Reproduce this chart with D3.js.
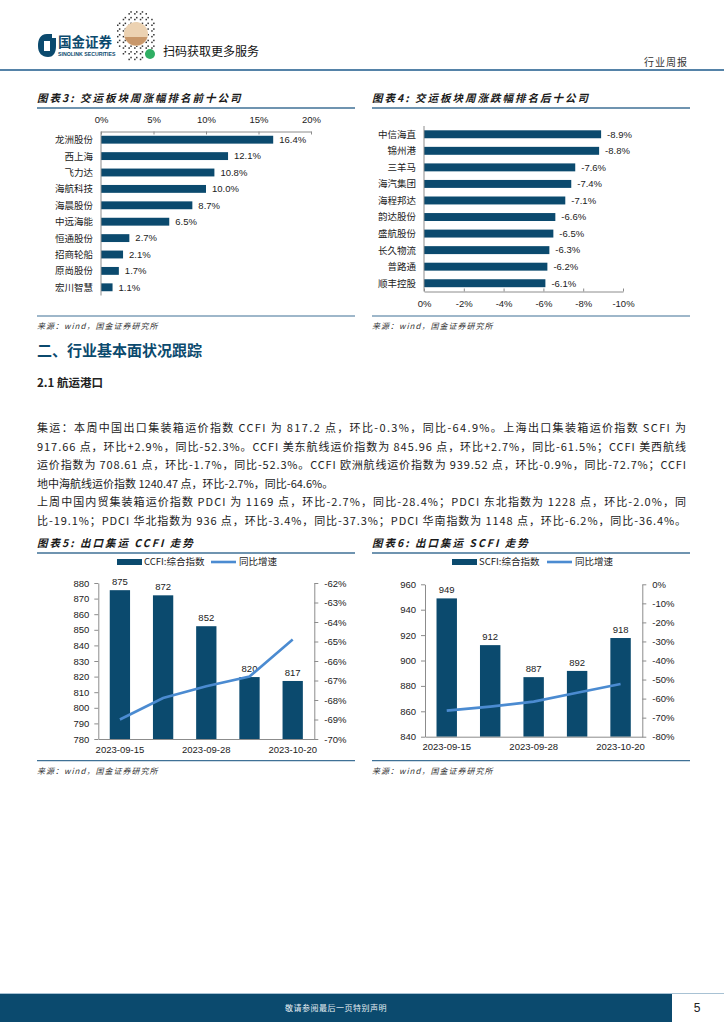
<!DOCTYPE html>
<html>
<head>
<meta charset="utf-8">
<script src="https://cdn.jsdelivr.net/npm/d3@7"></script>
<style>
  body { margin: 0; background: #fff; }
  svg { display: block; font-family: "Noto Sans CJK SC", "Noto Sans", sans-serif; }
  .axis path, .axis line { stroke: #8c8c8c; }
  .axis text { font-family: "Liberation Sans", Arial, sans-serif; font-size: 9.5px; fill: #222; }
</style>
</head>
<body>
<svg id="page" width="724" height="1024"></svg>
<script>
// ---- data ----
const topNames = ['龙洲股份', '西上海', '飞力达', '海航科技', '海晨股份', '中远海能', '恒通股份', '招商轮船', '原尚股份', '宏川智慧'];
const topChanges = [16.4, 12.1, 10.8, 10.0, 8.7, 6.5, 2.7, 2.1, 1.7, 1.1];
const topTicks = [0, 5, 10, 15, 20];

const bottomNames = ['中信海直', '锦州港', '三羊马', '海汽集团', '海程邦达', '韵达股份', '盛航股份', '长久物流', '普路通', '顺丰控股'];
const bottomChanges = [-8.9, -8.8, -7.6, -7.4, -7.1, -6.6, -6.5, -6.3, -6.2, -6.1];
const bottomTicks = [0, -2, -4, -6, -8, -10];

const weekDates = ['2023-09-15', '2023-09-22', '2023-09-28', '2023-10-13', '2023-10-20'];
const dateTicks = ['2023-09-15', '2023-09-28', '2023-10-20'];
const ccfiIndex = [875.4, 872.1, 852.3, 819.7, 817.2];
const ccfiYoY = [-69.0, -67.9, -67.3, -66.8, -64.9];
const scfiIndex = [948.9, 912.1, 886.9, 891.8, 917.7];
const scfiYoY = [-66.3, -64.2, -61.6, -56.9, -52.3];

const paragraphLines = [
  '集运：本周中国出口集装箱运价指数 CCFI 为 817.2 点，环比-0.3%，同比-64.9%。上海出口集装箱运价指数 SCFI 为',
  '917.66 点，环比+2.9%，同比-52.3%。CCFI 美东航线运价指数为 845.96 点，环比+2.7%，同比-61.5%；CCFI 美西航线',
  '运价指数为 708.61 点，环比-1.7%，同比-52.3%。CCFI 欧洲航线运价指数为 939.52 点，环比-0.9%，同比-72.7%；CCFI',
  '地中海航线运价指数 1240.47 点，环比-2.7%，同比-64.6%。',
  '上周中国内贸集装箱运价指数 PDCI 为 1169 点，环比-2.7%，同比-28.4%；PDCI 东北指数为 1228 点，环比-2.0%，同',
  '比-19.1%；PDCI 华北指数为 936 点，环比-3.4%，同比-37.3%；PDCI 华南指数为 1148 点，环比-6.2%，同比-36.4%。'
];
const justified = [true, true, true, false, true, true];

const DARK = '#0b4a6e';
const LINE = '#4b8bd1';
const RULE = '#3f7196';

// plain hyphen instead of d3's unicode minus
const pct1 = d => d3.format('.1f')(d).replace('−', '-') + '%';
const pct0 = d => String(d) + '%';

const svg = d3.select('#page');

// ---- header ----
const header = svg.append('g');
header.append('path')
  .attr('d', 'M47,34 C40,34 38,40 38,46 C38,53 42,57 48,57 C54,57 56,52 56,46 L56,38 L52,38 L52,34 Z')
  .attr('fill', DARK);
header.append('rect').attr('x', 44).attr('y', 41).attr('width', 6).attr('height', 10).attr('fill', '#fff');
header.append('text').attr('x', 58).attr('y', 47)
  .attr('font-size', 13.5).attr('font-weight', 700).attr('fill', DARK).text('国金证券');
header.append('text').attr('x', 58).attr('y', 56)
  .attr('font-family', 'Liberation Sans, Arial').attr('font-size', 5.2).attr('font-weight', 700)
  .attr('fill', DARK).text('SINOLINK SECURITIES');

// QR placeholder
const qr = header.append('g').attr('transform', 'translate(136,34)');
for (let i = -11; i <= 11; i++) {
  for (let j = -14; j <= 14; j++) {
    const inside = (i * i) / 121 + (j * j) / 196 <= 1;
    if (inside && (i * 31 + j * 17 + i * j) % 3 === 0) {
      qr.append('rect').attr('x', i * 1.9).attr('y', j * 1.9)
        .attr('width', 1.5).attr('height', 1.5).attr('fill', '#333');
    }
  }
}
qr.append('circle').attr('r', 12).attr('fill', '#ecd2b2');
qr.append('path').attr('d', 'M-11.5,3 A12,12 0 0 0 11.5,3 Z').attr('fill', '#c8976a');
qr.append('circle').attr('cx', 14).attr('cy', 20).attr('r', 5).attr('fill', '#2fae63');
header.append('text').attr('x', 163).attr('y', 56)
  .attr('font-size', 12).attr('fill', '#111').text('扫码获取更多服务');
header.append('text').attr('x', 688).attr('y', 66).attr('text-anchor', 'end')
  .attr('font-size', 10).attr('fill', '#333').attr('letter-spacing', 1).text('行业周报');
header.append('line').attr('x1', 0).attr('x2', 724).attr('y1', 70).attr('y2', 70)
  .attr('stroke', '#5583a8').attr('stroke-width', 2);

// ---- helpers ----
function chartTitle(x, y, width, label) {
  svg.append('text').attr('x', x).attr('y', y)
    .attr('font-size', 10.5).attr('font-weight', 700).attr('font-style', 'italic')
    .attr('fill', '#1a1a1a').attr('letter-spacing', 2).text(label);
  svg.append('line').attr('x1', x).attr('x2', x + width).attr('y1', y + 6).attr('y2', y + 6)
    .attr('stroke', RULE).attr('stroke-width', 1.5);
}

function sourceNote(x, y, width) {
  svg.append('line').attr('x1', x).attr('x2', x + width).attr('y1', y).attr('y2', y)
    .attr('stroke', RULE).attr('stroke-width', 1.2);
  svg.append('text').attr('x', x).attr('y', y + 13)
    .attr('font-size', 8).attr('font-style', 'italic').attr('fill', '#333')
    .attr('letter-spacing', 1).text('来源：wind，国金证券研究所');
}

function hbarChart(o) {
  const g = svg.append('g');
  const x = d3.scaleLinear().domain(o.domain).range(o.xRange);
  const y = d3.scaleBand().domain(o.names).range(o.yRange).paddingInner(0.52).paddingOuter(0.26);

  g.selectAll('rect.bar').data(o.values).join('rect')
    .attr('class', 'bar')
    .attr('x', x(0))
    .attr('y', (d, i) => y(o.names[i]))
    .attr('width', d => Math.abs(x(d) - x(0)))
    .attr('height', y.bandwidth())
    .attr('fill', DARK);

  g.selectAll('text.val').data(o.values).join('text')
    .attr('class', 'val')
    .attr('x', d => x(d) + 6)
    .attr('y', (d, i) => y(o.names[i]) + y.bandwidth() / 2)
    .attr('dy', '0.35em')
    .attr('font-family', 'Liberation Sans, Arial').attr('font-size', 9.5).attr('fill', '#222')
    .text(pct1);

  g.selectAll('text.cat').data(o.names).join('text')
    .attr('class', 'cat')
    .attr('x', x(0) - 8)
    .attr('y', d => y(d) + y.bandwidth() / 2)
    .attr('dy', '0.36em').attr('text-anchor', 'end')
    .attr('font-size', 9.5).attr('fill', '#222')
    .text(d => d);

  // category axis line
  g.append('line').attr('x1', x(0)).attr('x2', x(0))
    .attr('y1', o.yRange[0]).attr('y2', o.yRange[1]).attr('stroke', '#8c8c8c');

  const axis = (o.top ? d3.axisTop(x) : d3.axisBottom(x))
    .tickValues(o.ticks).tickFormat(pct0)
    .tickSizeInner(-3).tickSizeOuter(0).tickPadding(9);
  g.append('g').attr('class', 'axis')
    .attr('transform', `translate(0,${o.top ? o.yRange[0] : o.yRange[1]})`)
    .call(axis);
}

function comboChart(o) {
  const g = svg.append('g');
  const x = d3.scaleBand().domain(weekDates).range(o.xRange).paddingInner(0.53).paddingOuter(0.265);
  const y = d3.scaleLinear().domain(o.yDomain).range(o.yRange);
  const y2 = d3.scaleLinear().domain(o.y2Domain).range(o.yRange);

  g.append('g').attr('class', 'axis')
    .attr('transform', `translate(${o.xRange[0]},0)`)
    .call(d3.axisLeft(y).tickValues(d3.range(o.yDomain[0], o.yDomain[1] + 0.1, o.yStep))
      .tickSizeInner(4).tickSizeOuter(0).tickPadding(5));
  g.append('g').attr('class', 'axis')
    .attr('transform', `translate(${o.xRange[1]},0)`)
    .call(d3.axisRight(y2).tickValues(d3.range(o.y2Domain[0], o.y2Domain[1] + 0.1, o.y2Step))
      .tickFormat(pct0).tickSizeInner(4).tickSizeOuter(0).tickPadding(6));

  g.selectAll('rect.bar').data(o.values).join('rect')
    .attr('class', 'bar')
    .attr('x', (d, i) => x(weekDates[i]))
    .attr('y', d => y(d))
    .attr('width', x.bandwidth())
    .attr('height', d => y(o.yDomain[0]) - y(d))
    .attr('fill', DARK);

  g.selectAll('text.val').data(o.values).join('text')
    .attr('class', 'val')
    .attr('x', (d, i) => x(weekDates[i]) + x.bandwidth() / 2)
    .attr('y', d => y(d) - 5)
    .attr('text-anchor', 'middle')
    .attr('font-family', 'Liberation Sans, Arial').attr('font-size', 9.5).attr('fill', '#222')
    .text(d => d3.format('.0f')(d));

  g.append('g').attr('class', 'axis')
    .attr('transform', `translate(0,${o.yRange[0]})`)
    .call(d3.axisBottom(x).tickValues(dateTicks).tickSize(0).tickPadding(7));

  const line = d3.line()
    .x((d, i) => x(weekDates[i]) + x.bandwidth() / 2)
    .y(d => y2(d));
  g.append('path').datum(o.yoy)
    .attr('d', line).attr('fill', 'none')
    .attr('stroke', LINE).attr('stroke-width', 2.6);

  // legend
  const lg = g.append('g').attr('transform', `translate(${o.legendX},562)`);
  lg.append('rect').attr('x', 0).attr('y', -3).attr('width', 25).attr('height', 6).attr('fill', DARK);
  lg.append('text').attr('x', 27).attr('y', 0).attr('dy', '0.35em')
    .attr('font-size', 9.5).attr('fill', '#222').text(o.legendName);
  lg.append('line').attr('x1', o.legendGap).attr('x2', o.legendGap + 25).attr('y1', 0).attr('y2', 0)
    .attr('stroke', LINE).attr('stroke-width', 2.6);
  lg.append('text').attr('x', o.legendGap + 28).attr('y', 0).attr('dy', '0.35em')
    .attr('font-size', 9.5).attr('fill', '#222').text('同比增速');
}

// ---- top row: weekly ranking ----
chartTitle(37, 102, 318, '图表3: 交运板块周涨幅排名前十公司');
chartTitle(372, 102, 318, '图表4: 交运板块周涨跌幅排名后十公司');

hbarChart({ names: topNames, values: topChanges, domain: [0, 20], xRange: [101, 311],
  yRange: [131.5, 295.5], ticks: topTicks, top: true });
hbarChart({ names: bottomNames, values: bottomChanges, domain: [0, -10], xRange: [424, 623],
  yRange: [126, 291.5], ticks: bottomTicks, top: false });

sourceNote(37, 316, 318);
sourceNote(372, 316, 318);

// ---- section text ----
svg.append('text').attr('x', 37).attr('y', 356)
  .attr('font-size', 15).attr('font-weight', 700).attr('fill', DARK).text('二、行业基本面状况跟踪');
svg.append('text').attr('x', 37).attr('y', 387)
  .attr('font-size', 11.5).attr('font-weight', 700).attr('fill', '#222').text('2.1 航运港口');

const para = svg.append('g');
paragraphLines.forEach((t, i) => {
  const el = para.append('text').attr('x', 37).attr('y', 432 + i * 18.6)
    .attr('font-size', 11).attr('fill', '#222').text(t);
  if (justified[i]) el.attr('textLength', 649).attr('lengthAdjust', 'spacing');
});

// ---- bottom row: freight indices ----
chartTitle(37, 547, 318, '图表5: 出口集运 CCFI 走势');
chartTitle(372, 547, 318, '图表6: 出口集运 SCFI 走势');

comboChart({ values: ccfiIndex, yoy: ccfiYoY, xRange: [98.3, 314.3], yRange: [739, 583],
  yDomain: [780, 880], yStep: 10, y2Domain: [-70, -62], y2Step: 1,
  legendX: 117, legendGap: 94, legendName: 'CCFI:综合指数' });
comboChart({ values: scfiIndex, yoy: scfiYoY, xRange: [425, 642.3], yRange: [736.7, 584.3],
  yDomain: [840, 960], yStep: 20, y2Domain: [-80, 0], y2Step: 10,
  legendX: 452, legendGap: 95, legendName: 'SCFI:综合指数' });

sourceNote(37, 760.7, 318);
sourceNote(372, 760.7, 318);

// ---- footer ----
svg.append('rect').attr('x', 0).attr('y', 994).attr('width', 672).attr('height', 28).attr('fill', DARK);
svg.append('line').attr('x1', 0).attr('x2', 724).attr('y1', 993.5).attr('y2', 993.5)
  .attr('stroke', '#a8c2d4').attr('stroke-width', 1);
svg.append('text').attr('x', 336).attr('y', 1011).attr('text-anchor', 'middle')
  .attr('font-size', 8).attr('fill', '#e6eef3').attr('letter-spacing', 0.5).text('敬请参阅最后一页特别声明');
svg.append('text').attr('x', 697).attr('y', 1012).attr('text-anchor', 'middle')
  .attr('font-family', 'Liberation Sans, Arial').attr('font-size', 12).attr('fill', '#222').text('5');
</script>
</body>
</html>
